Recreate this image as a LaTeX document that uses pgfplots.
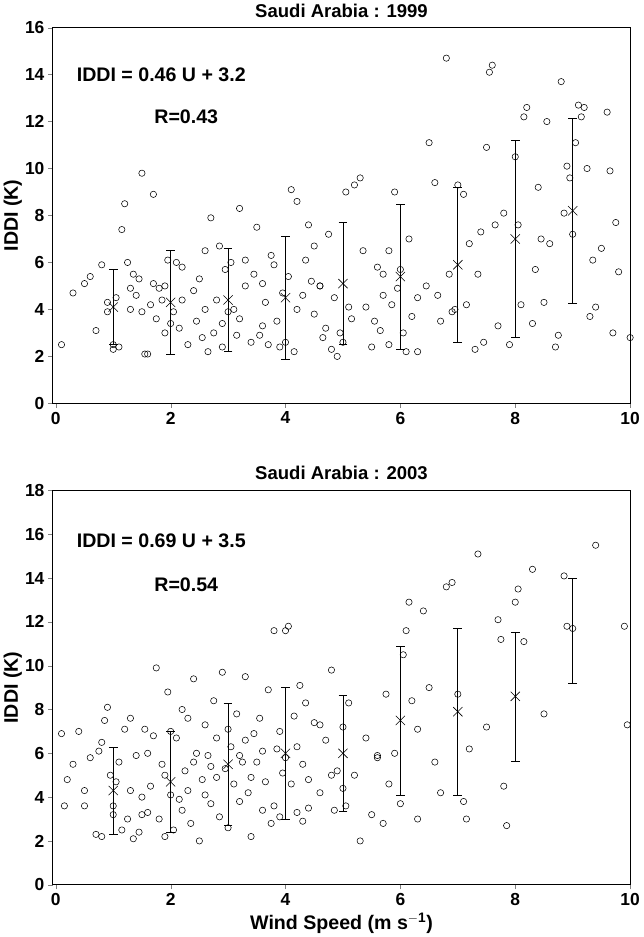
\documentclass[border=0pt]{standalone}
\usepackage{pgfplots}
\pgfplotsset{compat=1.18}
\usepackage{fontspec}
\setmainfont{Liberation Sans}
\begin{document}
\begin{tikzpicture}
\pgfplotsset{every axis/.style={scale only axis, width=530pt, xmin=-0.05, xmax=10, xtick={0,2,...,10},
 tick label style={font=\bfseries\fontsize{16}{16}\selectfont}, /pgf/number format/assume math mode=true,
 label style={font=\bfseries\fontsize{18}{18}\selectfont}, title style={font=\bfseries\fontsize{17}{17}\selectfont},
 tick align=outside, axis line style={line width=0.8pt}, xtick pos=bottom, ytick pos=left,
 ylabel={IDDI (K)}, ylabel style={yshift=-4pt}}}
\begin{axis}[at={(0,0)}, anchor=north west, height=345pt, ymin=0, ymax=16, ytick={0,2,...,16}, title={Saudi Arabia : 1999}]
\addplot[only marks, mark=o, mark size=2.9pt, line width=0.5pt] coordinates {
(0.1,2.5)(0.3,4.7)(0.5,5.1)(0.6,5.4)(0.7,3.1)(0.8,5.9)(0.9,4.3)(0.9,3.9)(1.0,2.3)(1.0,2.5)(1.05,4.5)(1.1,2.4)(1.15,7.4)(1.2,8.5)(1.25,6.0)(1.3,4.9)(1.35,5.5)(1.4,4.6)(1.45,5.3)(1.5,9.8)(1.5,3.9)(1.55,2.1)(1.6,2.1)(1.65,4.2)(1.7,8.9)(1.7,5.1)(1.75,3.6)(1.8,4.9)(1.85,4.4)(1.9,3.0)(1.95,6.1)(2.0,3.4)(2.05,3.9)(2.1,6.0)(2.15,3.2)(2.2,5.8)(2.3,2.5)(2.4,4.8)(2.45,3.5)(2.5,5.3)(2.55,2.8)(2.6,6.5)(2.65,2.2)(2.7,7.9)(2.75,3.0)(2.8,4.4)(2.85,6.7)(2.9,2.4)(2.95,5.7)(3.0,3.9)(3.05,6.0)(3.1,4.0)(3.15,2.9)(3.2,8.3)(3.3,5.0)(3.4,2.6)(3.45,5.5)(3.5,7.5)(3.55,2.9)(3.6,3.3)(3.65,4.3)(3.7,2.5)(3.75,6.3)(3.8,5.9)(3.85,3.5)(3.9,2.4)(3.95,4.7)(4.0,2.6)(4.05,5.4)(4.1,9.1)(4.15,2.2)(4.2,8.6)(4.3,4.6)(4.35,6.1)(4.4,7.6)(4.45,5.2)(4.5,3.8)(4.6,5.0)(4.65,2.8)(4.7,3.2)(4.75,7.2)(4.8,2.3)(4.85,4.5)(4.9,2.0)(4.95,3.0)(5.05,9.0)(5.1,4.1)(5.15,3.6)(5.2,9.3)(5.3,9.6)(5.35,6.5)(5.4,4.1)(5.5,2.4)(5.55,3.5)(5.6,5.8)(5.65,3.1)(5.7,4.6)(5.8,6.5)(5.85,4.2)(5.9,9.0)(5.95,4.9)(6.05,3.0)(6.1,2.2)(6.15,7.0)(6.2,3.7)(6.3,2.2)(6.45,5.0)(6.5,11.1)(6.6,9.4)(6.65,4.6)(6.8,14.7)(6.85,5.5)(6.9,3.9)(6.95,4.0)(7.1,8.9)(7.15,4.2)(7.2,6.8)(7.3,2.3)(7.35,5.5)(7.4,7.3)(7.45,2.6)(7.5,10.9)(7.55,14.1)(7.6,14.4)(7.65,7.6)(7.7,3.3)(7.8,8.1)(7.9,2.5)(8.0,10.5)(8.05,7.6)(8.1,4.2)(8.15,12.2)(8.2,12.6)(8.3,3.4)(8.35,5.7)(8.4,9.2)(8.45,7.0)(8.5,4.3)(8.55,12.0)(8.6,6.8)(8.7,2.4)(8.75,2.9)(8.8,13.7)(8.85,8.1)(8.9,10.1)(8.95,9.6)(9.0,7.2)(9.05,11.1)(9.1,12.7)(9.15,12.2)(9.2,12.6)(9.25,10.0)(9.3,3.7)(9.35,6.1)(9.4,4.1)(9.5,6.6)(9.6,12.4)(9.65,9.9)(9.7,3.0)(9.75,7.7)(9.8,5.6)(10.0,2.8)(6.7,3.5)(7.0,9.3)(2.2,4.4)(1.3,4.0)(3.3,6.1)(4.6,5.0)(5.0,2.6)(5.8,2.5)
(2.6,4.0)(3.6,5.1)(4.2,4.0)(5.7,5.5)(6.3,4.5)(1.9,5.0)(2.9,3.4)(4.5,6.7)(6.0,5.7)(3.2,3.6)};
\addplot[only marks, mark=x, mark size=6pt, line width=0.5pt, error bars/.cd, y dir=both, y explicit, error bar style={line width=0.6pt}, error mark options={rotate=90, mark size=4pt}] coordinates {
(1,4.1) +- (0,1.6) (2,4.3) +- (0,2.2) (3,4.4) +- (0,2.2) (4,4.5) +- (0,2.6) (5,5.1) +- (0,2.6) (6,5.4) +- (0,3.1) (7,5.9) +- (0,3.3) (8,7.0) +- (0,4.2) (9,8.2) +- (0,3.95)};
\node[font=\bfseries\fontsize{18}{18}\selectfont, anchor=west] at (axis cs:0.3,14) {IDDI = 0.46 U + 3.2};
\node[font=\bfseries\fontsize{18}{18}\selectfont, anchor=west] at (axis cs:1.65,12.2) {R=0.43};
\end{axis}
\begin{axis}[at={(0,-425pt)}, anchor=north west, height=362pt, ymin=0, ymax=18, ytick={0,2,...,18}, title={Saudi Arabia : 2003}, xlabel={Wind Speed (m s$^{\mathbf{-1}}$)}]
\addplot[only marks, mark=o, mark size=2.9pt, line width=0.5pt] coordinates {
(0.1,6.9)(0.15,3.6)(0.2,4.8)(0.3,5.5)(0.4,7.0)(0.5,3.6)(0.6,5.8)(0.7,2.3)(0.75,6.1)(0.8,2.2)(0.85,7.5)(0.9,8.1)(0.95,5.0)(1.0,3.2)(1.05,4.7)(1.1,5.6)(1.15,2.5)(1.2,7.1)(1.25,3.0)(1.3,7.6)(1.35,2.1)(1.4,5.9)(1.45,2.4)(1.5,4.0)(1.55,7.1)(1.6,3.3)(1.65,4.5)(1.7,6.8)(1.75,9.9)(1.8,3.0)(1.85,5.5)(1.9,2.2)(1.95,8.8)(2.0,4.1)(2.05,2.5)(2.1,6.7)(2.15,3.9)(2.2,8.0)(2.25,5.2)(2.3,4.3)(2.35,2.8)(2.4,9.4)(2.45,6.0)(2.5,2.0)(2.55,4.8)(2.6,7.3)(2.65,5.9)(2.7,3.7)(2.75,8.4)(2.8,4.9)(2.85,3.1)(2.9,9.7)(2.95,5.3)(3.0,2.6)(3.05,6.3)(3.1,4.6)(3.15,7.8)(3.2,3.8)(3.25,5.6)(3.3,9.5)(3.35,4.2)(3.4,2.2)(3.45,6.9)(3.5,5.6)(3.55,7.6)(3.6,3.4)(3.65,4.7)(3.7,8.9)(3.75,2.8)(3.8,11.6)(3.85,6.2)(3.9,3.1)(3.95,5.1)(4.0,11.6)(4.05,11.8)(4.1,4.6)(4.15,7.7)(4.2,3.3)(4.25,9.1)(4.3,5.5)(4.35,8.3)(4.4,3.5)(4.5,7.4)(4.6,4.2)(4.7,6.6)(4.8,9.8)(4.85,3.4)(4.9,5.2)(5.0,7.2)(5.05,3.6)(5.1,8.3)(5.2,5.0)(5.3,2.0)(5.4,6.7)(5.5,3.2)(5.6,5.8)(5.7,2.8)(5.75,8.7)(5.8,4.6)(5.9,6.0)(6.0,3.7)(6.05,10.5)(6.1,11.6)(6.15,12.9)(6.2,8.4)(6.3,3.0)(6.4,12.5)(6.5,9.0)(6.6,5.6)(6.7,4.2)(6.8,13.6)(6.9,13.8)(7.0,8.7)(7.1,3.8)(7.15,3.0)(7.2,6.2)(7.35,15.1)(7.5,7.2)(7.7,12.1)(7.75,11.2)(7.8,4.5)(7.85,2.7)(8.0,12.9)(8.05,13.5)(8.15,11.1)(8.3,14.4)(8.5,7.8)(8.85,14.1)(8.9,11.8)(9.0,11.7)(9.4,15.5)(9.9,11.8)(9.95,7.3)
(1.0,3.6)(1.3,4.3)(1.6,6.0)(1.9,5.0)(2.0,7.0)(2.2,3.4)(2.4,5.6)(2.6,4.1)(2.8,6.7)(3.0,7.1)(3.2,5.9)(3.4,4.9)(3.6,6.1)(3.8,3.6)(4.0,5.8)(4.2,6.3)(4.4,4.8)(4.6,7.3)(4.8,5.0)(5.0,4.4)(0.5,4.3)(0.8,6.5)(1.5,3.2)(2.3,7.6)(2.7,5.4)(3.3,6.6)(3.9,7.0)(4.3,2.9)(5.6,5.9)(6.3,7.1)};
\addplot[only marks, mark=x, mark size=6pt, line width=0.5pt, error bars/.cd, y dir=both, y explicit, error bar style={line width=0.6pt}, error mark options={rotate=90, mark size=4pt}] coordinates {
(1,4.3) +- (0,2.0) (2,4.7) +- (0,2.3) (3,5.5) +- (0,2.8) (4,6.0) +- (0,3.0) (5,6.0) +- (0,2.65) (6,7.5) +- (0,3.4) (7,7.9) +- (0,3.8) (8,8.6) +- (0,2.95)};
\addplot[draw=none, mark=none, error bars/.cd, y dir=both, y explicit, error bar style={line width=0.6pt, draw=black}, error mark options={rotate=90, mark size=4pt, draw=black}] coordinates {(9,11.6) +- (0,2.4)};
\node[font=\bfseries\fontsize{18}{18}\selectfont, anchor=west] at (axis cs:0.3,15.7) {IDDI = 0.69 U + 3.5};
\node[font=\bfseries\fontsize{18}{18}\selectfont, anchor=west] at (axis cs:1.65,13.7) {R=0.54};
\end{axis}
\end{tikzpicture}
\end{document}
